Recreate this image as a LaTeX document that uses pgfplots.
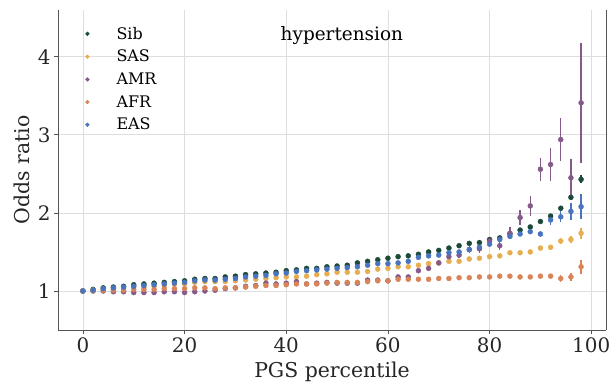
\documentclass[border=0pt]{standalone}
\usepackage{pgfplots}
\pgfplotsset{compat=1.18}
\usepackage{pgfplotstable}
\usepackage{fontspec}
\setmainfont{DejaVu Serif}
\definecolor{sibc}{HTML}{1B4A3A}
\definecolor{sasc}{HTML}{E6AE50}
\definecolor{amrc}{HTML}{855A8A}
\definecolor{afrc}{HTML}{D88458}
\definecolor{easc}{HTML}{4A74BD}
\definecolor{gridc}{HTML}{DEDEDE}
\definecolor{spinec}{HTML}{555555}

\pgfplotstableread{
x y e
0 1.00 0.005
2 1.02 0.01
4 1.04 0.01
6 1.05 0.01
8 1.06 0.01
10 1.08 0.01
12 1.09 0.01
14 1.10 0.01
16 1.11 0.01
18 1.12 0.01
20 1.13 0.01
22 1.15 0.01
24 1.16 0.01
26 1.16 0.01
28 1.18 0.01
30 1.19 0.01
32 1.21 0.01
34 1.22 0.01
36 1.23 0.01
38 1.24 0.01
40 1.26 0.01
42 1.27 0.01
44 1.29 0.01
46 1.29 0.01
48 1.31 0.01
50 1.32 0.01
52 1.33 0.01
54 1.36 0.01
56 1.38 0.01
58 1.40 0.01
60 1.42 0.01
62 1.44 0.01
64 1.45 0.01
66 1.47 0.01
68 1.50 0.01
70 1.52 0.01
72 1.55 0.01
74 1.58 0.01
76 1.61 0.01
78 1.62 0.01
80 1.66 0.015
82 1.68 0.015
84 1.73 0.015
86 1.78 0.015
88 1.82 0.02
90 1.89 0.02
92 1.96 0.02
94 2.06 0.02
96 2.20 0.03
98 2.43 0.05
}\sib

\pgfplotstableread{
x y e
0 1.00 0.005
2 1.01 0.01
4 1.02 0.01
6 1.03 0.01
8 1.03 0.01
10 1.05 0.01
12 1.05 0.01
14 1.06 0.01
16 1.07 0.01
18 1.09 0.01
20 1.09 0.01
22 1.11 0.01
24 1.12 0.01
26 1.12 0.01
28 1.12 0.01
30 1.13 0.01
32 1.14 0.01
34 1.15 0.01
36 1.16 0.01
38 1.17 0.01
40 1.18 0.01
42 1.18 0.01
44 1.19 0.01
46 1.21 0.01
48 1.22 0.01
50 1.24 0.01
52 1.24 0.01
54 1.24 0.01
56 1.25 0.01
58 1.28 0.01
60 1.29 0.01
62 1.31 0.01
64 1.31 0.01
66 1.33 0.015
68 1.35 0.015
70 1.36 0.015
72 1.38 0.015
74 1.38 0.015
76 1.41 0.015
78 1.42 0.015
80 1.44 0.02
82 1.45 0.02
84 1.49 0.02
86 1.49 0.02
88 1.50 0.02
90 1.55 0.03
92 1.56 0.03
94 1.64 0.04
96 1.66 0.05
98 1.74 0.07
}\sas

\pgfplotstableread{
x y e
0 1.00 0.005
2 1.00 0.01
4 1.00 0.01
6 0.99 0.01
8 0.99 0.015
10 0.98 0.015
12 0.98 0.015
14 0.98 0.015
16 0.99 0.015
18 0.99 0.015
20 0.98 0.015
22 0.99 0.015
24 1.00 0.015
26 1.01 0.015
28 1.03 0.015
30 1.04 0.015
32 1.06 0.02
34 1.07 0.02
36 1.10 0.02
38 1.09 0.02
40 1.10 0.02
42 1.12 0.02
44 1.09 0.02
46 1.10 0.02
48 1.11 0.02
50 1.10 0.02
52 1.10 0.02
54 1.10 0.025
56 1.14 0.025
58 1.14 0.025
60 1.13 0.03
62 1.18 0.03
64 1.18 0.03
66 1.26 0.035
68 1.29 0.035
70 1.36 0.035
72 1.44 0.04
74 1.46 0.04
76 1.53 0.045
78 1.54 0.05
80 1.64 0.05
82 1.58 0.06
84 1.74 0.08
86 1.94 0.10
88 2.09 0.13
90 2.56 0.15
92 2.62 0.21
94 2.94 0.27
96 2.45 0.24
98 3.41 0.77
}\amr

\pgfplotstableread{
x y e
0 1.00 0.005
2 1.00 0.01
4 1.01 0.01
6 1.01 0.01
8 1.01 0.01
10 1.02 0.01
12 1.02 0.01
14 1.02 0.01
16 1.03 0.01
18 1.03 0.01
20 1.03 0.01
22 1.04 0.01
24 1.04 0.01
26 1.03 0.01
28 1.04 0.01
30 1.04 0.01
32 1.05 0.01
34 1.06 0.01
36 1.07 0.01
38 1.07 0.01
40 1.08 0.01
42 1.09 0.01
44 1.09 0.01
46 1.09 0.01
48 1.10 0.01
50 1.11 0.01
52 1.11 0.01
54 1.11 0.01
56 1.12 0.01
58 1.13 0.01
60 1.13 0.01
62 1.15 0.01
64 1.15 0.01
66 1.15 0.015
68 1.15 0.015
70 1.16 0.015
72 1.16 0.015
74 1.17 0.015
76 1.17 0.015
78 1.18 0.015
80 1.18 0.02
82 1.19 0.02
84 1.19 0.02
86 1.18 0.02
88 1.18 0.02
90 1.19 0.03
92 1.19 0.03
94 1.16 0.04
96 1.18 0.05
98 1.31 0.09
}\afr

\pgfplotstableread{
x y e
0 1.00 0.005
2 1.01 0.01
4 1.03 0.01
6 1.04 0.01
8 1.05 0.01
10 1.06 0.01
12 1.07 0.01
14 1.08 0.01
16 1.09 0.01
18 1.10 0.01
20 1.11 0.01
22 1.13 0.01
24 1.14 0.01
26 1.14 0.01
28 1.15 0.01
30 1.16 0.01
32 1.18 0.01
34 1.19 0.01
36 1.20 0.01
38 1.22 0.01
40 1.23 0.01
42 1.25 0.01
44 1.26 0.01
46 1.27 0.01
48 1.28 0.01
50 1.29 0.01
52 1.30 0.01
54 1.31 0.01
56 1.33 0.015
58 1.35 0.015
60 1.35 0.015
62 1.36 0.015
64 1.38 0.015
66 1.43 0.015
68 1.45 0.02
70 1.46 0.02
72 1.49 0.02
74 1.50 0.02
76 1.53 0.02
78 1.56 0.025
80 1.60 0.025
82 1.66 0.03
84 1.70 0.03
86 1.73 0.03
88 1.76 0.035
90 1.73 0.04
92 1.91 0.06
94 1.95 0.07
96 2.02 0.11
98 2.08 0.16
}\eas

\begin{document}
\begin{tikzpicture}
\useasboundingbox (-58bp,-56bp) rectangle (557bp,330bp);
\begin{axis}[
  at={(0,0)}, anchor=south west,
  scale only axis,
  width=548bp, height=320bp,
  xmin=-4.9, xmax=102.9,
  ymin=0.5, ymax=4.6,
  xtick={0,20,40,60,80,100},
  ytick={1,2,3,4},
  grid=major,
  major grid style={gridc, line width=0.8bp},
  axis lines*=left,
  axis line style={spinec, line width=0.9bp},
  tick align=outside,
  major tick length=4bp,
  tick style={spinec, line width=0.8bp},
  xtick pos=bottom, ytick pos=left,
  /pgf/number format/assume math mode=true,
  tick label style={font=\fontsize{20}{24}\selectfont, text=black!85},
  xlabel={PGS percentile},
  ylabel={Odds ratio},
  label style={font=\fontsize{20.5}{24}\selectfont, text=black!85},
  xlabel style={yshift=-3bp},
  ylabel style={yshift=1bp},
  title={hypertension},
  title style={at={(0.518,0.90)}, anchor=center, font=\fontsize{18.5}{22}\selectfont},
  legend style={at={(0.032,0.96)}, anchor=north west, draw=none, fill=none,
    font=\fontsize{16}{19}\selectfont, row sep=5.5bp,
    /tikz/every even column/.append style={column sep=0bp}},
  legend cell align=left,
  legend image code/.code={\draw[#1] plot[mark size=1.9bp] coordinates {(0.3cm,0cm)}; \path (0cm,0cm) (1.25cm,0cm);},
  every axis plot/.append style={only marks, mark=*, mark size=2.5bp,
    error bars/y dir=both, error bars/y explicit,
    error bars/error mark=none,
    error bars/error bar style={line width=1.4bp}},
  after end axis/.code={\draw[spinec, line width=0.9bp] (rel axis cs:1,0) -- (rel axis cs:1,1);},
]
\addplot[sibc, mark options={fill=sibc, draw=sibc}, error bars/error bar style={sibc, line width=1.4bp}] table[x=x, y=y, y error=e] {\sib};
\addlegendentry{Sib}
\addplot[sasc, mark options={fill=sasc, draw=sasc}, error bars/error bar style={sasc, line width=1.4bp}] table[x=x, y=y, y error=e] {\sas};
\addlegendentry{SAS}
\addplot[amrc, mark options={fill=amrc, draw=amrc}, error bars/error bar style={amrc, line width=1.4bp}] table[x=x, y=y, y error=e] {\amr};
\addlegendentry{AMR}
\addplot[afrc, mark options={fill=afrc, draw=afrc}, error bars/error bar style={afrc, line width=1.4bp}] table[x=x, y=y, y error=e] {\afr};
\addlegendentry{AFR}
\addplot[easc, mark options={fill=easc, draw=easc}, error bars/error bar style={easc, line width=1.4bp}] table[x=x, y=y, y error=e] {\eas};
\addlegendentry{EAS}
\end{axis}
\end{tikzpicture}
\end{document}
